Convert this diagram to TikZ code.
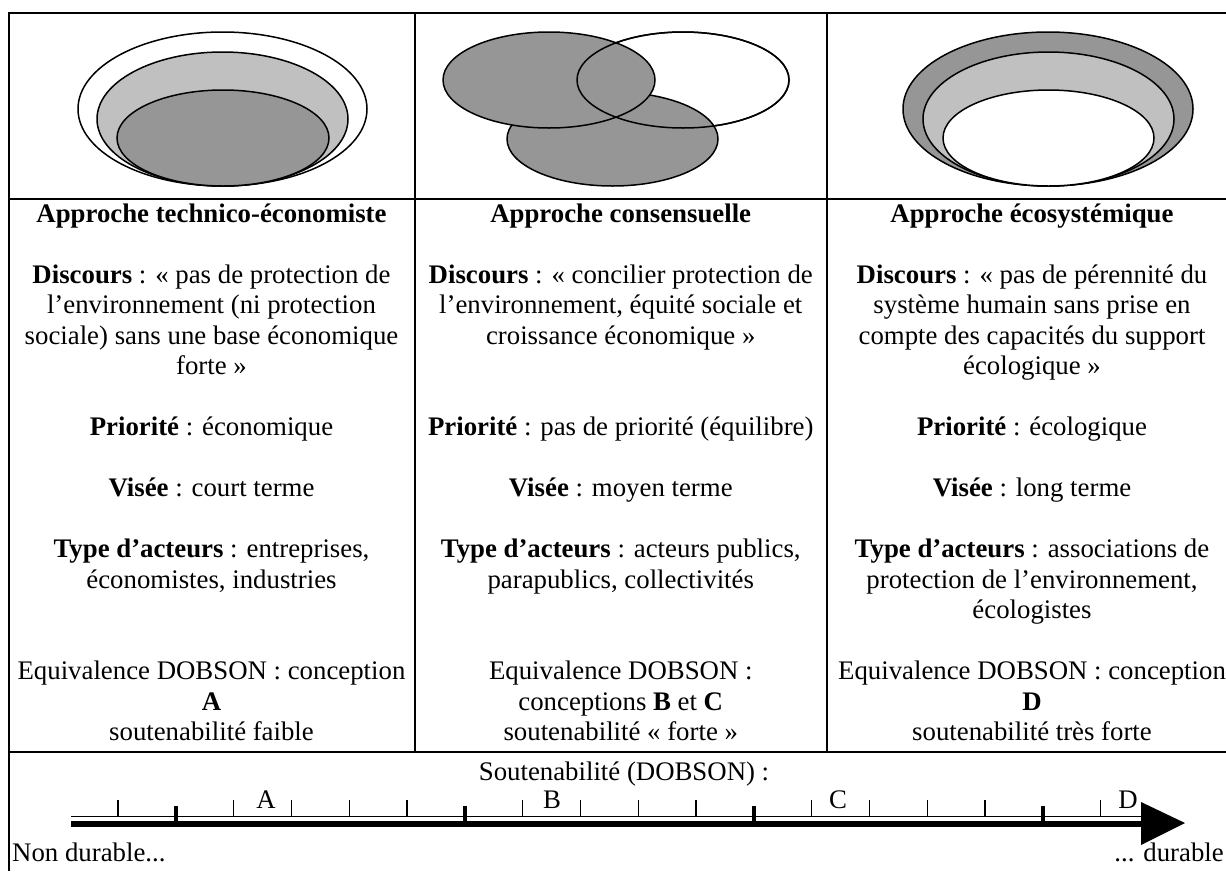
\documentclass[tikz,border=0pt]{standalone}
\usepackage{fontspec}
\setmainfont{Liberation Serif}
\usetikzlibrary{arrows.meta}
\definecolor{grisclair}{HTML}{C0C0C0}
\definecolor{grisfonce}{HTML}{969696}
\newcommand{\ligneblanche}{\\[30.5pt]}

\begin{document}
\begin{tikzpicture}[x=1pt,y=-1pt,
    cadre/.style={line width=2pt},
    bulle/.style={line width=1.5pt,draw=black},
    texte/.style={font=\fontsize{26.8}{30.5}\selectfont,align=center,inner sep=0pt},
    graduation/.style={line width=1.3pt},
    grosse graduation/.style={line width=3.5pt}]
  \useasboundingbox (0,0) rectangle (1226,871);
  \fill[white] (0,0) rectangle (1226,871);

  \draw[cadre] (1226,13) -- (9,13) -- (9,871);
  \draw[cadre] (9,198.5) -- (1226,198.5);
  \draw[cadre] (9,752) -- (1226,752);
  \draw[cadre] (415,13) -- (415,752);
  \draw[cadre] (826.5,13) -- (826.5,752);

  \draw[bulle,fill=white] (222.5,109) ellipse [x radius=144.5pt,y radius=77pt];
  \draw[bulle,fill=grisclair] (222.5,119) ellipse [x radius=125.5pt,y radius=67pt];
  \draw[bulle,fill=grisfonce] (223,138) ellipse [x radius=106pt,y radius=48pt];

  \draw[bulle,fill=white] (683,80) ellipse [x radius=106pt,y radius=48pt];
  \draw[bulle,fill=grisfonce] (612.5,139) ellipse [x radius=105.5pt,y radius=47pt];
  \draw[bulle,fill=grisfonce] (549,80) ellipse [x radius=106pt,y radius=48pt];
  \draw[bulle] (683,80) ellipse [x radius=106pt,y radius=48pt];

  \draw[bulle,fill=grisfonce] (1048,109) ellipse [x radius=145pt,y radius=77pt];
  \draw[bulle,fill=grisclair] (1048.5,119) ellipse [x radius=125.5pt,y radius=67pt];
  \draw[bulle,fill=white] (1048.5,138) ellipse [x radius=105.5pt,y radius=48pt];

  \node[texte,anchor=north] (technico) at (211.5,200.65) {\strut\textbf{Approche technico-économiste}\ligneblanche
    \textbf{Discours} : « pas de protection de\\
    l’environnement (ni protection\\
    sociale) sans une base économique\\
    forte »\ligneblanche
    \textbf{Priorité} : économique\ligneblanche
    \textbf{Visée} : court terme\ligneblanche
    \textbf{Type d’acteurs} : entreprises,\\
    économistes, industries\\[61pt]
    Equivalence DOBSON : conception\\
    \textbf{A}\\
    soutenabilité faible};
  \node[texte,anchor=north] (consensus) at (620.75,200.65) {\strut\textbf{Approche consensuelle}\ligneblanche
    \textbf{Discours} : « concilier protection de\\
    l’environnement, équité sociale et\\
    croissance économique »\\[61pt]
    \textbf{Priorité} : pas de priorité (équilibre)\ligneblanche
    \textbf{Visée} : moyen terme\ligneblanche
    \textbf{Type d’acteurs} : acteurs publics,\\
    parapublics, collectivités\\[61pt]
    Equivalence DOBSON :\\
    conceptions \textbf{B} et \textbf{C}\\
    soutenabilité « forte »};
  \node[texte,anchor=north] (ecosysteme) at (1032,200.65) {\strut\textbf{Approche écosystémique}\ligneblanche
    \textbf{Discours} : « pas de pérennité du\\
    système humain sans prise en\\
    compte des capacités du support\\
    écologique »\ligneblanche
    \textbf{Priorité} : écologique\ligneblanche
    \textbf{Visée} : long terme\ligneblanche
    \textbf{Type d’acteurs} : associations de\\
    protection de l’environnement,\\
    écologistes\ligneblanche
    Equivalence DOBSON : conception\\
    \textbf{D}\\
    soutenabilité très forte};

  \node[texte,anchor=base] (titre) at (624,780) {Soutenabilité (DOBSON) :};
  \node[texte,anchor=base west] (nondurable) at (12,861) {Non durable...};
  \node[texte,anchor=base east] (durable) at (1224,861) {... durable};

  \coordinate (origine) at (71,824);
  \coordinate (fin) at (1141,824);
  \coordinate (pointe) at (1185,823);
  \draw[line width=1.3pt] ([yshift=7.5pt]origine) -- ([yshift=7.5pt]fin);
  \draw[line width=6pt] (origine) -- (fin);
  \fill ([yshift=22pt]fin) -- (pointe) -- ([yshift=-21pt]fin) -- cycle;

  \foreach \i in {0,2,3,4,5,7,8,9,10,12,13,14,15,17}
    \draw[graduation] ({118+57.8*\i},800) -- ({118+57.8*\i},816.5);
  \foreach \i in {1,6,11,16}
    \draw[grosse graduation] ({118+57.8*\i},806) -- ({118+57.8*\i},821);

  \foreach \lettre/\x in {A/266,B/552,C/838,D/1128}
    \node[texte,anchor=base] (conception\lettre) at (\x,808) {\lettre};
\end{tikzpicture}
\end{document}
